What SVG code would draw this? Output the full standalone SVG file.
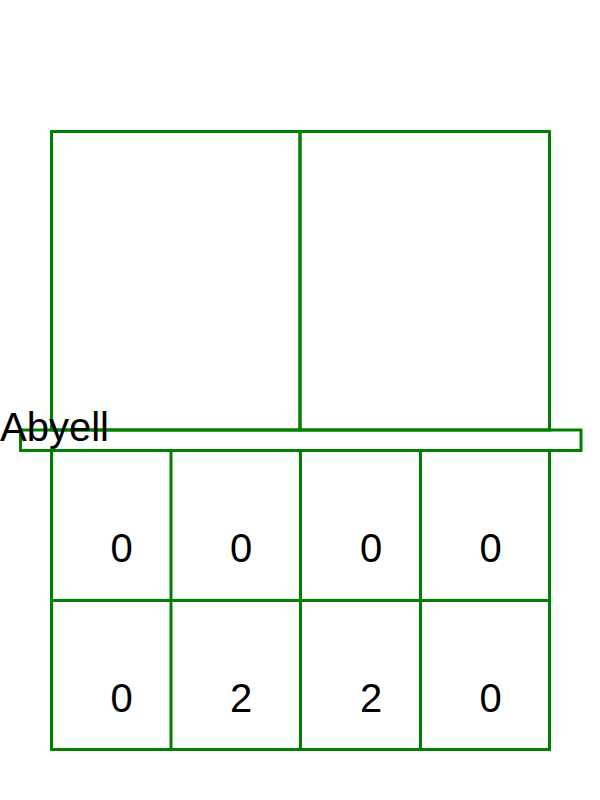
<svg xmlns="http://www.w3.org/2000/svg" width="600" height="800" viewBox="0 0 600 800">
<style>
.c{fill:none;stroke:#008000;stroke-width:3}
.t{font-family:"Liberation Sans",Arial,sans-serif;font-size:40px;fill:#000}
.n{text-anchor:middle}
</style>
<rect width="600" height="800" fill="#fff"/>
<g id="top-left"><rect class="c" x="51.5" y="131.5" width="248.5" height="298.5"/></g>
<g id="top-right"><rect class="c" x="300" y="131.5" width="249.5" height="298.5"/></g>
<g id="bar"><rect class="c" x="20.5" y="430" width="560.5" height="20.5"/><text class="t" x="0" y="441">Abyell</text></g>
<g id="grid">
<rect class="c" x="51.5" y="450.5" width="498" height="299"/>
<line class="c" x1="171" y1="450" x2="171" y2="749"/>
<line class="c" x1="300.5" y1="450" x2="300.5" y2="749"/>
<line class="c" x1="420.5" y1="450" x2="420.5" y2="749"/>
<line class="c" x1="51" y1="600.5" x2="549" y2="600.5"/>
</g>
<g id="r1c1"><text class="t n" x="121.5" y="562">0</text></g>
<g id="r1c2"><text class="t n" x="241" y="562">0</text></g>
<g id="r1c3"><text class="t n" x="371" y="562">0</text></g>
<g id="r1c4"><text class="t n" x="490.5" y="562">0</text></g>
<g id="r2c1"><text class="t n" x="121.5" y="712">0</text></g>
<g id="r2c2"><text class="t n" x="241" y="712">2</text></g>
<g id="r2c3"><text class="t n" x="371" y="712">2</text></g>
<g id="r2c4"><text class="t n" x="490.5" y="712">0</text></g>
</svg>
